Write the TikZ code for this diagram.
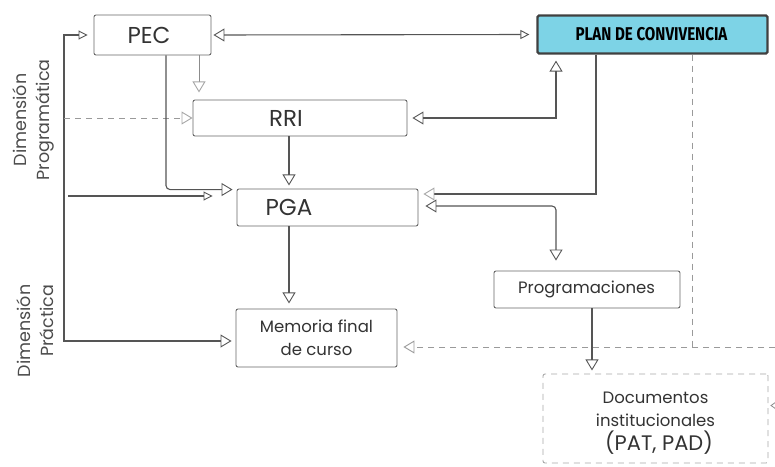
\documentclass[tikz,border=0pt]{standalone}
\usepackage{fontspec}
\setmainfont{Poppins}
\newfontfamily\planfont[FakeStretch=0.82]{Fira Sans}
\usetikzlibrary{arrows.meta}
\definecolor{lin}{HTML}{555555}
\definecolor{dsh}{HTML}{9A9A9A}
\definecolor{cyanfill}{HTML}{7DD3E6}
\tikzset{
  x=1pt,y=-1pt,
  boxst/.style={draw=lin!90, line width=0.9pt, rounded corners=2pt, inner sep=0pt, fill=white},
  tipo/.tip={Triangle[open,length=11pt,width=13pt,line width=0.9pt]},
  tips/.tip={Triangle[open,length=9pt,width=9pt,line width=0.9pt]},
  tipl/.tip={Triangle[open,length=11pt,width=13pt,line width=0.9pt,color=black!35]},
  con/.style={draw=lin, line width=1.1pt},
  conl/.style={draw=black!45, line width=1pt},
  dsl/.style={draw=dsh, line width=1pt, dash pattern=on 6pt off 5pt},
  txt/.style={inner sep=0pt, text=black!80},
}
\begin{document}
\begin{tikzpicture}
\useasboundingbox (0,0) rectangle (775,466);
% boxes
\node[boxst, minimum width=117pt, minimum height=40pt] (pec) at (152.5,35) {};
\node[boxst, draw=black!75, line width=2.2pt, rounded corners=1.5pt, fill=cyanfill, minimum width=230pt, minimum height=38pt] (plan) at (652.5,34.5) {};
\node[boxst, minimum width=214pt, minimum height=36pt] (rri) at (300,118) {};
\node[boxst, minimum width=181pt, minimum height=37pt] (pga) at (327.5,207.5) {};
\node[boxst, minimum width=186pt, minimum height=37pt] (prog) at (587,289.5) {};
\node[boxst, minimum width=161pt, minimum height=58pt] (mem) at (316.5,338) {};
\node[draw=black!35, line width=0.9pt, dash pattern=on 6pt off 5pt, rounded corners=2pt, inner sep=0pt, minimum width=225pt, minimum height=89pt] (docs) at (655.5,418.5) {};
% texts
\node[txt, font=\fontsize{23}{24}\selectfont] (tpec) at (149,35) {PEC};
\node[txt, font=\planfont\bfseries\fontsize{18.5}{20}\selectfont, text=black] (tplan) at (651.5,34.5) {PLAN DE CONVIVENCIA};
\node[txt, font=\fontsize{23}{24}\selectfont] (trri) at (286,118) {RRI};
\node[txt, font=\fontsize{23}{24}\selectfont] (tpga) at (289,207) {PGA};
\node[txt, font=\fontsize{16.5}{18}\selectfont] (tprog) at (586.5,289.5) {Programaciones};
\node[txt, align=center, font=\fontsize{16.5}{23}\selectfont] (tmem) at (316.5,338) {Memoria final\\de curso};
\node[txt, align=center, font=\fontsize{16.5}{23}\selectfont] (tdocs) at (655.5,409) {Documentos\\institucionales};
\node[txt, font=\fontsize{21}{22}\selectfont] (tpat) at (659,443) {(PAT, PAD)};
\node[txt, rotate=90, align=center, text=black!70, font=\fontsize{17.5}{23}\selectfont] (dprog) at (33,120) {Dimensión\\Programática};
\node[txt, rotate=90, align=right, text=black!70, font=\fontsize{17.5}{23}\selectfont] (dprac) at (35,331) {Dimensión\\Práctica};
% coordinates
\coordinate (lt) at (64,35);
\coordinate (lb) at (64,341);
\coordinate (ld) at (64,118);
\coordinate (lp) at (68,196);
\coordinate (dc) at (692,347);
\coordinate (dr) at (775,347);
% connectors
\draw[con, tipo-tips] ([xshift=2pt]pec.east) -- ([xshift=-7pt]plan.west);
\draw[con, tips-tipo] ([xshift=-6pt]pec.west) -- (lt) -- (lb) -- ([xshift=-4pt]mem.west |- lb);
\draw[dsl, -tipl] (ld) -- (rri.west);
\draw[con, -tips] (lp) -- ([xshift=-24pt]pga.west |- lp);
\draw[con, -tipo, rounded corners=4pt] ([xshift=13.5pt]pec.south) |- ([xshift=-4pt,yshift=-1pt]pga.north west);
\draw[conl, -tipl] ([xshift=46.5pt]pec.south) -- ++(0,37);
\draw[con, -tipo] ([xshift=-11pt]rri.south) -- ++(0,49);
\draw[con, tipo-tipo] ([xshift=-96.5pt,yshift=-6pt]plan.south) |- ([xshift=5pt]rri.east);
\draw[con, -tipl] ([xshift=-56.5pt]plan.south) |- ([xshift=5pt,yshift=13.5pt]pga.east);
\draw[con, tipo-tipo, rounded corners=4pt] ([xshift=7pt,yshift=1.5pt]pga.east) -| ([xshift=-31pt,yshift=10pt]prog.north);
\draw[con, -tipo] ([xshift=-38.5pt]pga.south) -- ++(0,77);
\draw[con, -tipo] ([xshift=5pt]prog.south) -- ++(0,62);
\draw[dsl] (plan.south -| dc) -- (dc);
\draw[dsl, -tipo] (dr) -- ([xshift=6pt]mem.east |- dr);
\draw[draw=black!45, line width=0.8pt] (776,402) -- (771,405.5) -- (776,409);
\end{tikzpicture}
\end{document}
